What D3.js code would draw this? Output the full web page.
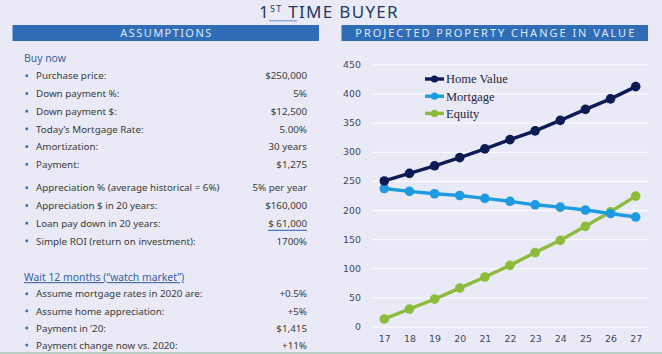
<!DOCTYPE html>
<html>
<head>
<meta charset="utf-8">
<script src="https://cdn.jsdelivr.net/npm/d3@7"></script>
<style>
  html, body { margin: 0; padding: 0; background: #e9eaf5; }
  svg { display: block; }
</style>
</head>
<body>
<svg id="chart" width="662" height="354"></svg>
<script>
// chart data (thousands of dollars)
const years = [17, 18, 19, 20, 21, 22, 23, 24, 25, 26, 27];
const homeValue = [250, 263, 276, 290, 305, 321, 336, 354, 373, 391, 412];
const mortgage = [237, 232, 228, 225, 220, 215, 209, 205, 200, 194, 188];
const equity = [13, 30, 47, 66, 85, 105, 127, 148, 172, 197, 224];
const yTicks = [0, 50, 100, 150, 200, 250, 300, 350, 400, 450];
const seriesNames = ["Home Value", "Mortgage", "Equity"];

// assumptions text
const buyNowLabels = ["Purchase price:", "Down payment %:", "Down payment $:", "Today\u2019s Mortgage Rate:", "Amortization:", "Payment:"];
const buyNowValues = ["$250,000", "5%", "$12,500", "5.00%", "30 years", "$1,275"];
const returnLabels = ["Appreciation % (average historical = 6%)", "Appreciation $ in 20 years:", "Loan pay down in 20 years:", "Simple ROI (return on investment):"];
const returnValues = ["5% per year", "$160,000", "$ 61,000", "1700%"];
const waitLabels = ["Assume mortgage rates in 2020 are:", "Assume home appreciation:", "Payment in \u201920:", "Payment change now vs. 2020:"];
const waitValues = ["+0.5%", "+5%", "$1,415", "+11%"];

const svg = d3.select("#chart");
const colors = ["#0c1a56", "#1e9be0", "#8dbb3b"];
const txtFont = "'Noto Sans', sans-serif";

svg.append("rect").attr("width", 662).attr("height", 354).attr("fill", "#e9eaf5");
svg.append("line").attr("x1", 0).attr("x2", 662).attr("y1", 353).attr("y2", 353)
    .attr("stroke", "#a9c4b2").attr("stroke-width", 1.5);

// title
const title = svg.append("text").attr("x", 259).attr("y", 18)
    .attr("font-family", txtFont).attr("font-size", 17).attr("letter-spacing", 1.3)
    .attr("fill", "#1f3864");
title.append("tspan").text("1");
title.append("tspan").attr("font-size", 9).attr("dy", -6.5).text("ST");
title.append("tspan").attr("dy", 6.5).text(" TIME BUYER");
svg.append("line").attr("x1", 269).attr("x2", 297).attr("y1", 20.8).attr("y2", 20.8)
    .attr("stroke", "#7b9fd6").attr("stroke-width", 1.2);

// header bars
const headers = [
    {x: 12.5, w: 306.5, label: "ASSUMPTIONS", tw: 91},
    {x: 341.5, w: 306.5, label: "PROJECTED PROPERTY CHANGE IN VALUE", tw: 279}
];
headers.forEach(h => {
    svg.append("rect").attr("x", h.x).attr("y", 25).attr("width", h.w).attr("height", 16)
        .attr("fill", "#2f6eb7");
    svg.append("text").attr("x", h.x + h.w / 2 - h.tw / 2).attr("y", 37)
        .attr("font-family", txtFont).attr("font-size", 11).attr("fill", "#dfe7f6")
        .attr("textLength", h.tw).attr("lengthAdjust", "spacing")
        .text(h.label);
});

// left panel: assumptions
const left = svg.append("g").attr("font-family", txtFont).attr("font-size", 9.8).attr("fill", "#3a3a3a");

function heading(text, y, underline) {
    const t = left.append("text").attr("x", 24).attr("y", y).attr("dy", "0.35em")
        .attr("fill", "#3760a6").attr("font-size", 10.4).text(text);
    if (underline) t.attr("text-decoration", "underline");
}

function rows(labels, values, y0, step) {
    labels.forEach((lab, i) => {
        const y = y0 + i * step;
        left.append("rect").attr("x", 25.5).attr("y", y - 1.5).attr("width", 2.6).attr("height", 2.6)
            .attr("fill", "#2e74b5");
        left.append("text").attr("x", 36).attr("y", y).attr("dy", "0.35em").text(lab);
        left.append("text").attr("x", 307).attr("y", y).attr("dy", "0.35em")
            .attr("text-anchor", "end").text(values[i]);
        if (values[i] === "$ 61,000") {
            left.append("line").attr("x1", 268).attr("x2", 307).attr("y1", y + 7).attr("y2", y + 7)
                .attr("stroke", "#4a78c8").attr("stroke-width", 1.2);
        }
    });
}

heading("Buy now", 58, false);
rows(buyNowLabels, buyNowValues, 76, 17.7);
rows(returnLabels, returnValues, 188, 17.7);
heading("Wait 12 months (\u201cwatch market\u201d)", 277.5, true);
rows(waitLabels, waitValues, 294, 17.1);

// right panel: line chart
const x = d3.scaleLinear().domain([17, 27]).range([384.3, 635.7]);
const y = d3.scaleLinear().domain([0, 450]).range([326.5, 64.5]);

const axisFont = "'DejaVu Sans', sans-serif";
const yAxis = d3.axisLeft(y).tickValues(yTicks).tickSize(-(648 - 372)).tickPadding(11);
const gy = svg.append("g").attr("transform", "translate(372,0)").call(yAxis);
gy.select(".domain").remove();
gy.selectAll(".tick line").attr("stroke", "#ffffff").attr("stroke-width", 1);
gy.selectAll(".tick text").attr("font-family", axisFont).attr("font-size", 9.4).attr("fill", "#45455c");

const xAxis = d3.axisBottom(x).tickValues(years).tickFormat(d3.format("d")).tickSize(0).tickPadding(9);
const gx = svg.append("g").attr("transform", "translate(0,326.5)").call(xAxis);
gx.select(".domain").remove();
gx.selectAll(".tick text").attr("font-family", axisFont).attr("font-size", 9.4).attr("fill", "#45455c");

const seriesData = [homeValue, mortgage, equity];
const line = d3.line().x((d, i) => x(years[i])).y(d => y(d));

// draw in order: equity below, home value on top
[2, 1, 0].forEach(k => {
    const g = svg.append("g");
    g.append("path").datum(seriesData[k]).attr("d", line)
        .attr("fill", "none").attr("stroke", colors[k]).attr("stroke-width", 3.4);
    g.selectAll("circle").data(seriesData[k]).join("circle")
        .attr("cx", (d, i) => x(years[i])).attr("cy", d => y(d)).attr("r", 4.8)
        .attr("fill", colors[k]);
});

// legend
const legend = svg.append("g").attr("font-family", "'Liberation Serif', serif").attr("font-size", 12.5);
seriesNames.forEach((name, k) => {
    const ly = 79 + k * 17.2;
    legend.append("line").attr("x1", 425).attr("x2", 444).attr("y1", ly).attr("y2", ly)
        .attr("stroke", colors[k]).attr("stroke-width", 3.4);
    legend.append("circle").attr("cx", 434.5).attr("cy", ly).attr("r", 3.6).attr("fill", colors[k]);
    legend.append("text").attr("x", 446).attr("y", ly).attr("dy", "0.35em")
        .attr("fill", "#25253f").text(name);
});
</script>
</body>
</html>
